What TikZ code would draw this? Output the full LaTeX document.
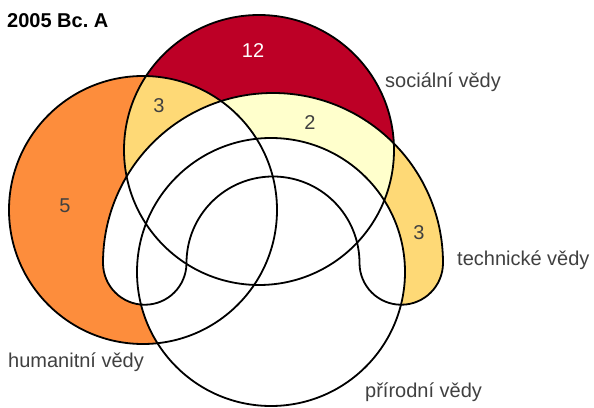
\documentclass[tikz,border=0pt]{standalone}
\usepackage{fontspec}
\setmainfont{Liberation Sans}
\definecolor{soconly}{HTML}{BD0026}
\definecolor{humonly}{HTML}{FD8D3C}
\definecolor{pairthree}{HTML}{FED976}
\definecolor{pairtwo}{HTML}{FFFFCC}
\definecolor{labelgray}{HTML}{404040}
\newcommand{\humset}{(143,197) circle (134pt)}
\newcommand{\socset}{(259,257) circle (135pt)}
\newcommand{\prirset}{(271,135) circle (134pt)}
\newcommand{\techset}{(103,144) arc[start angle=180,end angle=0,radius=170pt]
    arc[start angle=0,end angle=-180,radius=41.75pt]
    arc[start angle=0,end angle=180,radius=86.5pt]
    arc[start angle=0,end angle=-180,radius=41.75pt] -- cycle}
\tikzset{x=1pt,y=1pt,
    setline/.style={
        draw=black,
        line width=1.8pt},
    setlabel/.style={
        anchor=base west,
        inner sep=0pt,
        text=labelgray,
        font=\fontsize{20}{24}\selectfont},
    count/.style={
        anchor=base,
        inner sep=0pt,
        text=labelgray,
        font=\fontsize{20}{24}\selectfont}}

\begin{document}
\begin{tikzpicture}
        \useasboundingbox (0,0) rectangle (594,407);

        % regions
        \fill[humonly] \humset;
        \fill[soconly] \socset;
        \begin{scope}
            \clip \humset;
            \fill[pairthree] \socset;
        \end{scope}
        \fill[pairthree] \techset;
        \begin{scope}
            \clip \socset;
            \fill[pairtwo] \techset;
        \end{scope}
        \begin{scope}
            \clip \techset;
            \fill[white] \humset;
        \end{scope}
        \fill[white] \prirset;

        % outlines
        \draw[setline] \humset;
        \draw[setline] \socset;
        \draw[setline] \prirset;
        \draw[setline] \techset;

        \node[setlabel,text=black,font=\fontsize{20}{24}\selectfont\bfseries] (title) at (7,379) {2005 Bc.\ A};

        \node[count,text=white] (n12) at (253,349) {12};
        \node[count] (n3hs) at (159,294) {3};
        \node[count] (n2) at (310,277) {2};
        \node[count] (n5) at (65,194) {5};
        \node[count] (n3t) at (419,167) {3};

        \node[setlabel] (soc) at (385,319) {sociální vědy};
        \node[setlabel] (tech) at (457,141) {technické vědy};
        \node[setlabel] (hum) at (8,40) {humanitní vědy};
        \node[setlabel] (prir) at (365,10) {přírodní vědy};
    \end{tikzpicture}
\end{document}
